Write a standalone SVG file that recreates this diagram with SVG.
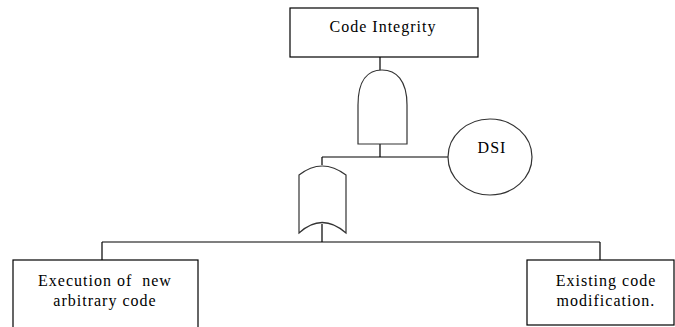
<svg xmlns="http://www.w3.org/2000/svg" width="675" height="327" viewBox="0 0 675 327">
<style>
.b{fill:#fff;stroke:#000;stroke-width:1.2}
.g{fill:#fff;stroke:#333;stroke-width:1.2}
.c{fill:none;stroke:#000;stroke-width:1.2}
text{font-family:"Liberation Serif",serif;font-size:16px;letter-spacing:1px;fill:#000;text-anchor:middle;white-space:pre}
</style>
<rect width="675" height="327" fill="#fff"/>
<g id="connectors">
<path class="c" d="M380 57V70M380 144V157M322 157H448M322 157V165M322 224V242M102 242H600M102 242V260M600 242V260"/>
</g>
<g id="code-integrity">
<rect class="b" x="290" y="8" width="188" height="49"/>
<text x="383" y="32">Code Integrity</text>
</g>
<g id="and-gate">
<path class="g" d="M358 144V105C358 80 368 70 382 70C396 70 407 80 407 105V144Z"/>
</g>
<g id="dsi">
<ellipse class="g" cx="490" cy="157" rx="42" ry="38"/>
<text x="492" y="153">DSI</text>
</g>
<g id="or-gate">
<path class="g" d="M299 233V175Q322 157 346 175V233Q322 212 299 233Z"/>
</g>
<g id="execution">
<rect class="b" x="13" y="260" width="185" height="80"/>
<text x="105" y="286">Execution of  new</text>
<text x="105" y="306">arbitrary code</text>
</g>
<g id="existing">
<rect class="b" x="527" y="260" width="147" height="65"/>
<text x="606" y="286">Existing code</text>
<text x="606" y="306">modification.</text>
</g>
</svg>
